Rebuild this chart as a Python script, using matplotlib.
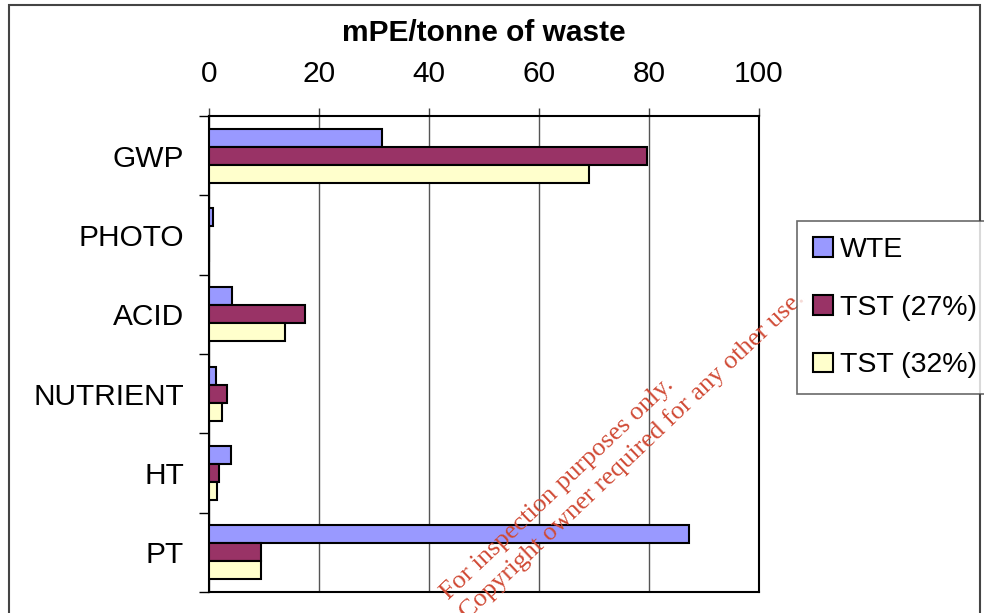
import matplotlib
matplotlib.use("Agg")
import matplotlib.pyplot as plt
import numpy as np
from matplotlib.patches import Rectangle

categories = ["GWP", "PHOTO", "ACID", "NUTRIENT", "HT", "PT"]
series = ["WTE", "TST (27%)", "TST (32%)"]
wte = [31.5, 0.7, 4.2, 1.3, 4.0, 87.2]
tst27 = [79.6, 0.0, 17.4, 3.2, 1.8, 9.4]
tst32 = [69.0, 0.0, 13.8, 2.4, 1.4, 9.4]
colors = ["#9999FF", "#993366", "#FFFFCC"]
xticks = [0, 20, 40, 60, 80, 100]

plt.rcParams['font.family'] = ['Liberation Sans', 'DejaVu Sans']
W, H = 984, 613
fs = 21.5
fig = plt.figure(figsize=(W / 100, H / 100), dpi=100)
ax = fig.add_axes([209 / W, 1 - 592 / H, 550 / W, 476 / H])

y = np.arange(len(categories))
bh = 0.227
for i, (vals, lab, c) in enumerate(zip([wte, tst27, tst32], series, colors)):
    ax.barh(y + (i - 1) * bh, vals, height=bh, color=c, edgecolor='black',
            linewidth=1.5, label=lab, zorder=3)

ax.set_xlim(0, 100)
ax.set_ylim(len(categories) - 0.5, -0.5)
ax.xaxis.tick_top()
ax.set_xticks(xticks)
ax.set_xticklabels([str(v) for v in xticks], fontsize=fs)
ax.tick_params(axis='x', direction='out', length=6, width=1, pad=14.5, color='#444444')
ax.set_yticks(y)
ax.set_yticklabels(categories, fontsize=fs)
ax.set_yticks(np.arange(len(categories) + 1) - 0.5, minor=True)
ax.tick_params(axis='y', which='major', length=0, pad=18)
ax.tick_params(axis='y', which='minor', length=7, width=1, direction='out')
ax.grid(axis='x', color='#555555', linewidth=1, zorder=0)
for s in ax.spines.values():
    s.set_linewidth(1.5)
    s.set_color('black')

fig.text(484 / W, 1 - 33 / H, "mPE/tonne of waste", fontsize=fs,
         fontweight='bold', ha='center', va='center')

leg = fig.legend(loc='upper left', bbox_to_anchor=(797 / W, 1 - 221 / H),
                 bbox_transform=fig.transFigure, fontsize=20.5, frameon=True,
                 fancybox=False, handlelength=0.7, handleheight=0.7,
                 handletextpad=0.25, labelspacing=1.12, borderpad=0.55,
                 borderaxespad=0)
leg.get_frame().set_edgecolor('#444444')
leg.get_frame().set_linewidth(1.2)
for p in leg.get_patches():
    p.set_linewidth(1.5)

# outer chart frame
fig.patches.append(Rectangle((9 / W, -0.05), 971 / W, 1.05 - 5 / H,
                             transform=fig.transFigure, fill=False,
                             edgecolor='#444444', linewidth=1.5))

# watermark
wm = dict(fontsize=19, color='#d04a35', rotation=43.5, rotation_mode='anchor',
          ha='left', va='baseline', family=['Liberation Serif', 'DejaVu Serif'])
fig.text(449 / W, 1 - 600 / H, "For inspection purposes only.", **wm)
fig.text(468 / W, 1 - 620 / H, "Copyright owner required for any other use.", **wm)

fig.savefig("out.png", dpi=100)
